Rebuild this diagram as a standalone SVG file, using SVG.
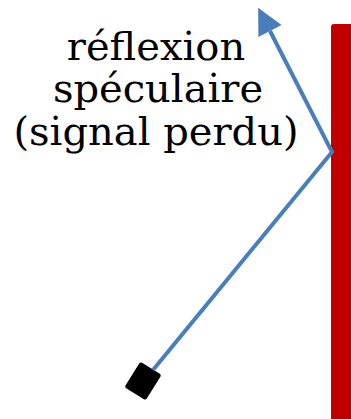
<svg xmlns="http://www.w3.org/2000/svg" width="351" height="419" viewBox="0 0 351 419">
<style>
.lbl{font-family:"DejaVu Serif","Liberation Serif",serif;font-size:40px;fill:#000;text-anchor:middle}
.ray{stroke:#4A7EBB;stroke-width:4;fill:none}
</style>
<defs>
<marker id="ah" markerUnits="userSpaceOnUse" markerWidth="30" markerHeight="30" refX="0" refY="0" viewBox="-2 -14 30 28" orient="auto" overflow="visible">
<path d="M26,0 L0,-13 L0,13 Z" fill="#4A7EBB"/>
</marker>
</defs>
<g id="mirror"><rect x="331" y="24" width="24" height="400" rx="3" fill="#C00000"/></g>
<g id="sensor"><rect x="-12.5" y="-15" width="25" height="30" rx="2.5" fill="#000" transform="translate(143,381) rotate(32)"/></g>
<g id="label">
<text class="lbl" x="156" y="60">réflexion</text>
<text class="lbl" x="158" y="102">spéculaire</text>
<text class="lbl" x="156" y="145">(signal perdu)</text>
</g>
<g id="connectors">
<polyline class="ray" points="153,370 332,152 270,31" marker-end="url(#ah)"/>
</g>
</svg>
